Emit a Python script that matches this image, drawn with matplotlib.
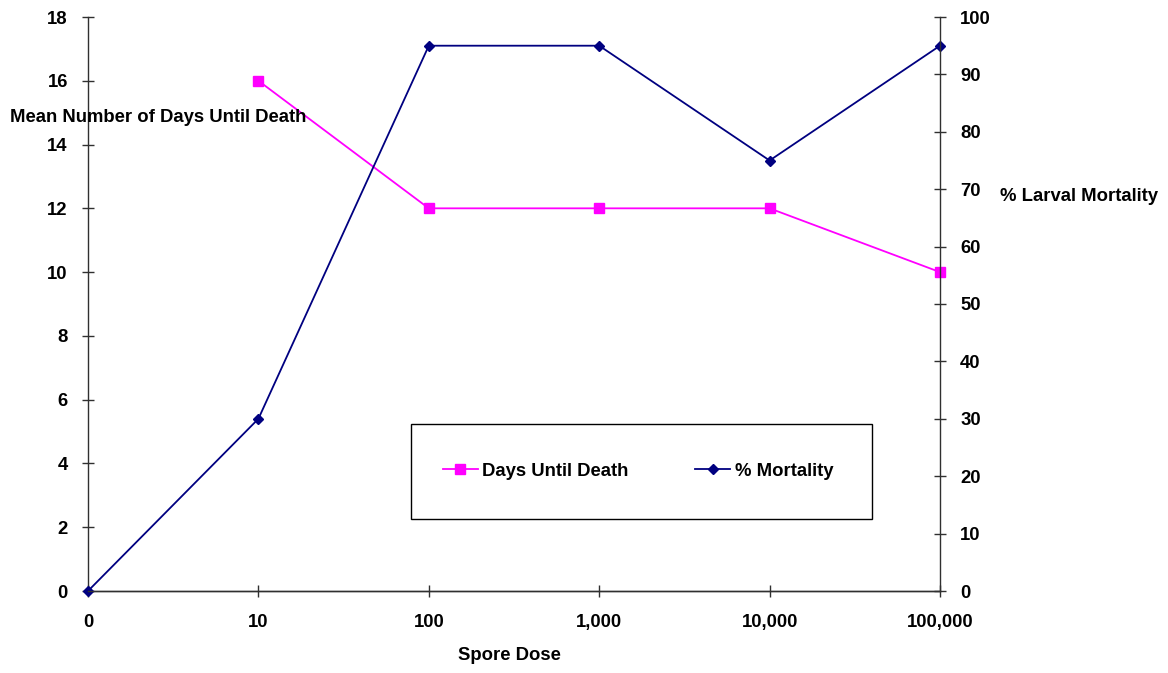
import matplotlib
matplotlib.use("Agg")
import matplotlib.pyplot as plt
from matplotlib.patches import Rectangle
from matplotlib.ticker import MultipleLocator

plt.rcParams['font.family'] = ['Liberation Sans', 'DejaVu Sans']
plt.rcParams['font.weight'] = 'bold'
plt.rcParams['font.size'] = 13.3

# data
doses = ["0", "10", "100", "1,000", "10,000", "100,000"]
days_x = [1, 2, 3, 4, 5]
days_until_death = [16, 12, 12, 12, 10]
mortality = [0, 30, 95, 95, 75, 95]

fig = plt.figure(figsize=(11.68, 6.73), dpi=100)
ax = fig.add_axes([88 / 1168, 1 - 591 / 673, (940 - 88) / 1168, (591 - 17) / 673])
ax2 = ax.twinx()

x = list(range(len(doses)))
l1, = ax.plot(days_x, days_until_death, color='#FF00FF', marker='s', markersize=7,
              lw=1.3, clip_on=False, label='Days Until Death')
l2, = ax2.plot(x, mortality, color='#000080', marker='D', markersize=5.5,
               lw=1.3, clip_on=False, label='% Mortality')

ax.set_xlim(0, 5)
ax.set_ylim(0, 18)
ax2.set_ylim(0, 100)
ax.set_xticks(x)
ax.set_xticklabels(doses)
ax.yaxis.set_major_locator(MultipleLocator(2))
ax2.yaxis.set_major_locator(MultipleLocator(10))

for a in (ax, ax2):
    a.spines['top'].set_visible(False)
    for s in a.spines.values():
        s.set_linewidth(1.0)
        s.set_color('#303030')
    a.tick_params(direction='inout', length=9, width=1.0, color='#303030')
ax2.spines['left'].set_visible(False)
ax.spines['right'].set_visible(False)
ax.tick_params(axis='x', pad=12)
ax.tick_params(axis='y', pad=10)
ax2.tick_params(axis='y', pad=10)

fig.text(10 / 1168, 1 - 117 / 673, "Mean Number of Days Until Death", ha='left', va='center')
fig.text(1000 / 1168, 1 - 196 / 673, "% Larval Mortality", ha='left', va='center')
fig.text(509 / 1168, 1 - 656 / 673, "Spore Dose", ha='center', va='center')

# legend box drawn separately so its size matches the original
box = Rectangle(((411 - 88) / 852, (591 - 519) / 574), 461 / 852, 95 / 574,
                transform=ax2.transAxes, facecolor='white', edgecolor='black',
                lw=1.0, zorder=5)
ax2.add_patch(box)
leg = ax2.legend([l1, l2], ['Days Until Death', '% Mortality'], ncol=2,
                 loc='center', bbox_to_anchor=((638 - 88) / 852, (591 - 471) / 574),
                 frameon=False, borderpad=0, columnspacing=3.6,
                 handlelength=1.9, handletextpad=0.25)
leg.set_zorder(6)

fig.savefig("out.png", dpi=100)
